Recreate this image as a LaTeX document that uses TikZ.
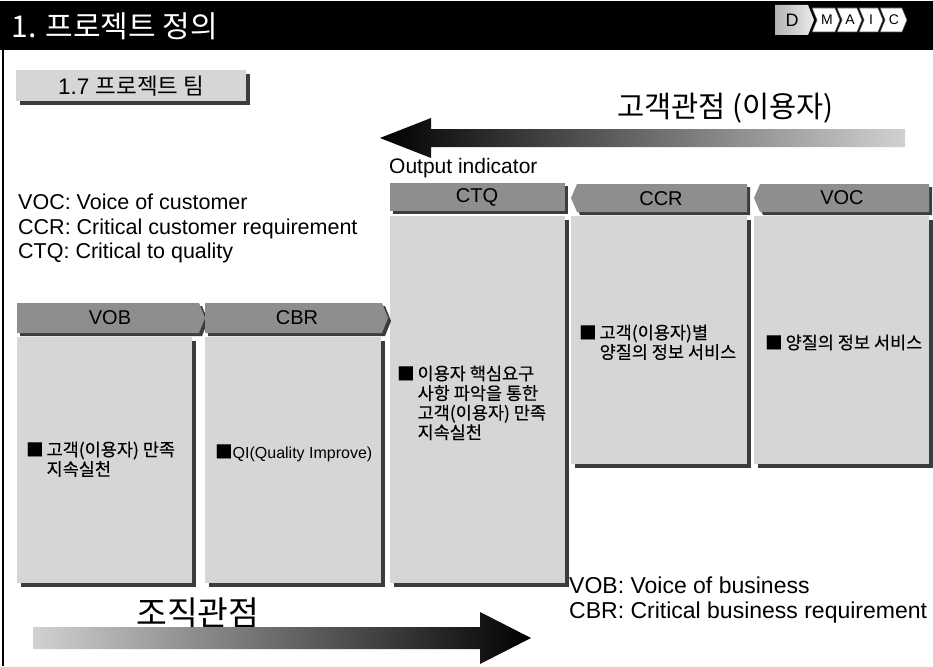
\documentclass[tikz,border=0pt]{standalone}
\usepackage{fontspec}
\setmainfont{Liberation Sans}
\newfontfamily\kr[FakeBold=0.3]{Noto Sans CJK KR}
\newfontfamily\krl{Noto Sans CJK KR}
\usetikzlibrary{shadows}
\definecolor{hdrgray}{HTML}{8E8E8E}
\definecolor{bodygray}{HTML}{D6D6D6}
\definecolor{shadowgray}{HTML}{3C3C3C}
\newcommand\fs[1]{\fontsize{#1}{#1}\selectfont}
% bullet item: black square followed by a block of lines
\newcommand\bulitem[1]{{\kr ■}\,\begin{tabular}[t]{@{}l@{}}#1\end{tabular}}
\begin{document}
\begin{tikzpicture}[x=1pt,y=-1pt,
  shd/.style={drop shadow={shadow xshift=#1pt,shadow yshift=-#1pt,fill=shadowgray,opacity=1}},
  shd/.default=3,
  bodybox/.style={rectangle,fill=bodygray,inner sep=0,anchor=north west,shd=4},
  hdrshape/.style={fill=hdrgray,shd=3},
  hdrlabel/.style={font=\fs{20}},
  legend/.style={anchor=base west,inner sep=0,font=\fs{21.5}},
  legendb/.style={anchor=base west,inner sep=0,font=\fs{23}},
  boxtext/.style={anchor=base west,inner sep=0,font=\kr\fontsize{17.5}{17}\selectfont},
  chev/.style={fill=white,draw=black!70,line width=0.6pt},
  chevlabel/.style={font=\fs{14}},
]
\useasboundingbox (0,0) rectangle (933,666);

% title band
\fill[black] (0,1) rectangle (933,50);
\node[anchor=west,text=white,font=\krl\fs{30}] (title) at (8,26) {1. 프로젝트 정의};

% DMAIC phase marker
\shade[left color=black!30,right color=black!8] (775,5) -- (808,5) -- (814,20) -- (808,35) -- (775,35) -- cycle;
\node[font=\fs{18}] (pD) at (792,20) {D};
\draw[chev] (812,8) -- (835,8) -- (840,20) -- (835,32) -- (812,32) -- (817,20) -- cycle;
\draw[chev] (837,8) -- (857,8) -- (862,20) -- (857,32) -- (837,32) -- (842,20) -- cycle;
\draw[chev] (859,8) -- (878,8) -- (883,20) -- (878,32) -- (859,32) -- (864,20) -- cycle;
\draw[chev] (880,8) -- (902,8) -- (907,20) -- (902,32) -- (880,32) -- (885,20) -- cycle;
\node[chevlabel] (pM) at (827,20) {M};
\node[chevlabel] (pA) at (850,20) {A};
\node[chevlabel] (pI) at (871,20) {I};
\node[chevlabel] (pC) at (894,20) {C};

% left frame line
\draw[line width=1.2pt] (3,50) -- (3,666);

% section label
\node[rectangle,fill=bodygray,shd=4,minimum width=230,minimum height=31,anchor=north west,inner sep=0,font=\fs{22.5}] (sect) at (16,70) {1.7 {\krl 프로젝트 팀}};

% customer perspective arrow
\node[anchor=west,inner sep=0,font=\krl\fs{29.5}] (custlbl) at (617,108) {고객관점 (이용자)};
\shade[left color=black,right color=black!18] (380,138) -- (431,118) -- (431,129) -- (905,129) -- (905,147) -- (431,147) -- (431,158) -- cycle;
\node[anchor=west,inner sep=0,font=\fs{21}] (outind) at (389,168) {Output indicator};

% legend
\node[legend] (lgvoc) at (18,209) {VOC: Voice of customer};
\node[legend] (lgccr) at (18,234) {CCR: Critical customer requirement};
\node[legend] (lgctq) at (18,258) {CTQ: Critical to quality};
\node[legendb] (lgvob) at (569,593) {VOB: Voice of business};
\node[legendb] (lgcbr) at (569,618) {CBR: Critical business requirement};

% body boxes
\node[bodybox,minimum width=175,minimum height=246] (bVOB) at (17,337) {};
\node[bodybox,minimum width=176,minimum height=246] (bCBR) at (205,337) {};
\node[bodybox,minimum width=175,minimum height=367] (bCTQ) at (390,216) {};
\node[bodybox,minimum width=176,minimum height=248] (bCCR) at (571,216) {};
\node[bodybox,minimum width=175,minimum height=248] (bVOC) at (754,216) {};

% header bars
\fill[hdrshape] (17,303) -- (199,303) -- (205,318) -- (199,333) -- (17,333) -- cycle;
\fill[hdrshape] (205,303) -- (382,303) -- (388,318) -- (382,333) -- (205,333) -- cycle;
\fill[hdrshape] (390,183) -- (565,183) -- (565,211) -- (390,211) -- cycle;
\fill[hdrshape] (577,184) -- (747,184) -- (747,212) -- (577,212) -- (571,198) -- cycle;
\fill[hdrshape] (760,184) -- (929,184) -- (929,212) -- (760,212) -- (754,198) -- cycle;
\node[hdrlabel] (hVOB) at (110,318) {VOB};
\node[hdrlabel] (hCBR) at (297,318) {CBR};
\node[hdrlabel] (hCTQ) at (477,197) {CTQ};
\node[hdrlabel] (hCCR) at (661,199) {CCR};
\node[hdrlabel] (hVOC) at (842,198) {VOC};

% box contents
\node[boxtext] (tVOB) at (26,456) {\bulitem{고객(이용자) 만족\\지속실천}};
\node[boxtext] (tCBR) at (215,458) {{\kr ■}{\rmfamily\fs{16}QI(Quality Improve)}};
\node[boxtext] (tCTQ) at (397,380) {\bulitem{이용자 핵심요구\\사항 파악을 통한\\고객(이용자) 만족\\지속실천}};
\node[boxtext] (tCCR) at (579,339) {\bulitem{고객(이용자)별\\양질의 정보 서비스}};
\node[boxtext] (tVOC) at (765,349) {\bulitem{양질의 정보 서비스}};

% organisation perspective arrow
\node[anchor=west,inner sep=0,font=\krl\fs{33.5}] (orglbl) at (136,613) {조직관점};
\shade[left color=black!18,right color=black] (33,627) -- (480,627) -- (480,612) -- (531,638) -- (480,664) -- (480,649) -- (33,649) -- cycle;
\end{tikzpicture}
\end{document}
